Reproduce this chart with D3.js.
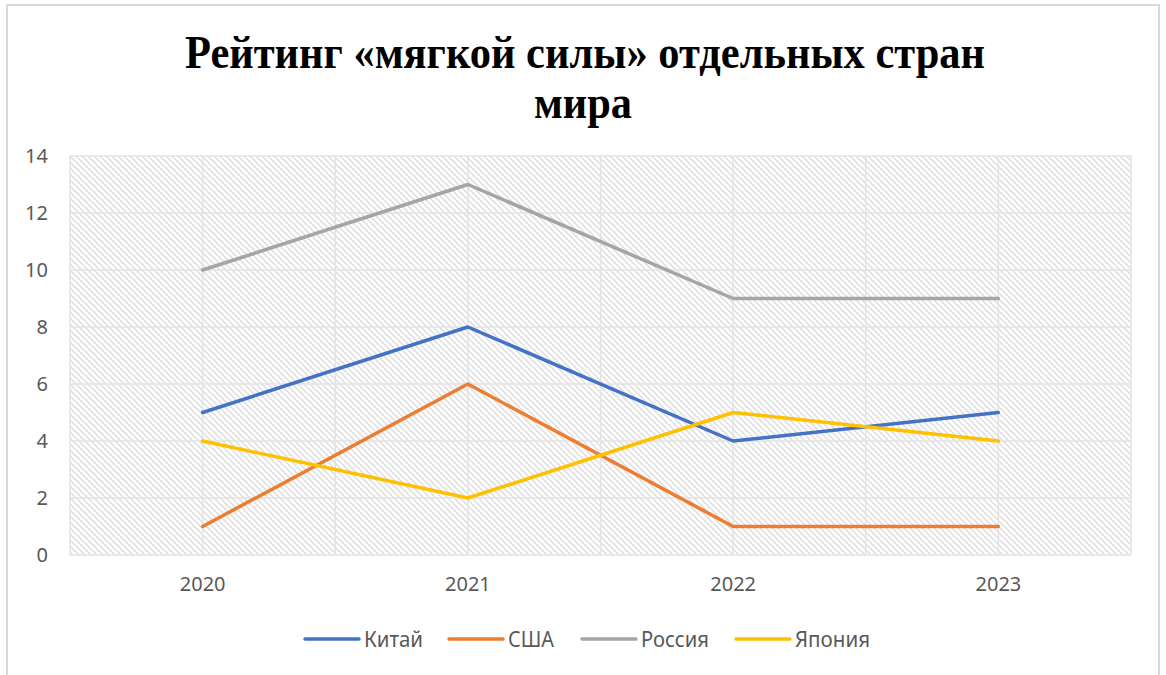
<!DOCTYPE html>
<html>
<head>
<meta charset="utf-8">
<script src="https://cdn.jsdelivr.net/npm/d3@7"></script>
<style>
  body { margin: 0; background: #fff; }
  svg { display: block; }
</style>
</head>
<body>
<svg id="chart" width="1166" height="675"></svg>
<script>
const years = ["2020", "2021", "2022", "2023"];
const seriesNames = ["Китай", "США", "Россия", "Япония"];
const china = [5, 8, 4, 5];
const usa = [1, 6, 1, 1];
const russia = [10, 13, 9, 9];
const japan = [4, 2, 5, 4];
const yTicks = [0, 2, 4, 6, 8, 10, 12, 14];
const colors = ["#4472C4", "#ED7D31", "#A5A5A5", "#FFC000"];

const series = [china, usa, russia, japan].map((vals, i) => ({
  name: seriesNames[i],
  color: colors[i],
  values: vals
}));

const svg = d3.select("#chart");
const margin = { top: 156, right: 35, bottom: 120, left: 70 };
const width = 1166 - margin.left - margin.right;
const height = 675 - margin.top - margin.bottom;

// outer chart frame
svg.append("rect")
  .attr("x", 7).attr("y", 5)
  .attr("width", 1152).attr("height", 680)
  .attr("fill", "#fff")
  .attr("stroke", "#d9d9d9")
  .attr("stroke-width", 2);

// hatch pattern for plot area
const defs = svg.append("defs");
const pat = defs.append("pattern")
  .attr("id", "hatch")
  .attr("patternUnits", "userSpaceOnUse")
  .attr("width", 6).attr("height", 6);
pat.append("rect").attr("width", 6).attr("height", 6).attr("fill", "#fff");
pat.append("path")
  .attr("d", "M-1,-1 L7,7 M-4,2 L2,8 M4,-2 L8,2")
  .attr("stroke", "#dedede")
  .attr("stroke-width", 1.5);

// title (narrow bold serif)
const titleFont = "'Liberation Serif', 'Times New Roman', serif";
svg.append("text")
  .attr("x", 585).attr("y", 68)
  .attr("text-anchor", "middle")
  .attr("font-family", titleFont)
  .attr("font-weight", "bold")
  .attr("font-size", 47)
  .attr("textLength", 800)
  .attr("lengthAdjust", "spacingAndGlyphs")
  .text("Рейтинг «мягкой силы» отдельных стран");
svg.append("text")
  .attr("x", 583).attr("y", 118)
  .attr("text-anchor", "middle")
  .attr("font-family", titleFont)
  .attr("font-weight", "bold")
  .attr("font-size", 47)
  .attr("textLength", 98)
  .attr("lengthAdjust", "spacingAndGlyphs")
  .text("мира");

const g = svg.append("g").attr("transform", `translate(${margin.left},${margin.top})`);

const x = d3.scaleBand().domain(years).range([0, width]);
const y = d3.scaleLinear().domain([0, 14]).range([height, 0]);

g.append("rect")
  .attr("width", width).attr("height", height)
  .attr("fill", "url(#hatch)");

// vertical gridlines: band edges and band centres
const vLines = [];
years.forEach(yr => {
  vLines.push(x(yr));
  vLines.push(x(yr) + x.bandwidth() / 2);
});
vLines.push(width);
g.selectAll(".vgrid")
  .data(vLines)
  .enter().append("line")
  .attr("class", "vgrid")
  .attr("x1", d => d).attr("x2", d => d)
  .attr("y1", 0).attr("y2", height)
  .attr("stroke", "#e3e3e3")
  .attr("stroke-width", 1.5);

// horizontal gridlines
g.selectAll(".hgrid")
  .data(yTicks)
  .enter().append("line")
  .attr("class", "hgrid")
  .attr("x1", 0).attr("x2", width)
  .attr("y1", d => y(d)).attr("y2", d => y(d))
  .attr("stroke", "#e3e3e3")
  .attr("stroke-width", 1.5);

const axisFont = "'Noto Sans', 'Open Sans', sans-serif";

// y axis
const yAxis = g.append("g")
  .call(d3.axisLeft(y).tickValues(yTicks).tickSize(0).tickPadding(22));
yAxis.select(".domain").remove();
yAxis.selectAll("text")
  .attr("font-family", axisFont)
  .attr("font-size", 20)
  .attr("fill", "#595959");

// x axis
const xAxis = g.append("g")
  .attr("transform", `translate(0,${height})`)
  .call(d3.axisBottom(x).tickSize(0).tickPadding(22));
xAxis.select(".domain").remove();
xAxis.selectAll("text")
  .attr("font-family", axisFont)
  .attr("font-size", 20)
  .attr("fill", "#595959");

// lines
const line = d3.line()
  .x((d, i) => x(years[i]) + x.bandwidth() / 2)
  .y(d => y(d));

g.selectAll(".series")
  .data(series)
  .enter().append("path")
  .attr("class", "series")
  .attr("d", d => line(d.values))
  .attr("fill", "none")
  .attr("stroke", d => d.color)
  .attr("stroke-width", 3.5)
  .attr("stroke-linejoin", "round")
  .attr("stroke-linecap", "round");

// legend
const legendX = [305, 449, 582, 736];
const legendW = [59, 46, 68, 75];
const legend = svg.selectAll(".legend")
  .data(series)
  .enter().append("g")
  .attr("class", "legend")
  .attr("transform", (d, i) => `translate(${legendX[i]},639)`);
legend.append("line")
  .attr("x1", 0).attr("x2", 54)
  .attr("y1", 0).attr("y2", 0)
  .attr("stroke", d => d.color)
  .attr("stroke-width", 3.5)
  .attr("stroke-linecap", "round");
legend.append("text")
  .attr("x", 59).attr("y", 7.5)
  .attr("font-family", axisFont)
  .attr("font-size", 21)
  .attr("fill", "#595959")
  .attr("textLength", (d, i) => legendW[i])
  .attr("lengthAdjust", "spacingAndGlyphs")
  .text(d => d.name);
</script>
</body>
</html>
